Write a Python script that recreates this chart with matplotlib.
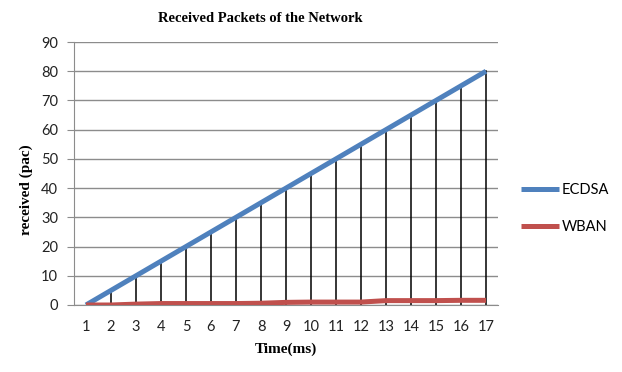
import matplotlib
matplotlib.use("Agg")
import matplotlib.pyplot as plt

# données des deux séries
temps = list(range(1, 18))
ecdsa = [0, 5, 10, 15, 20, 25, 30, 35, 40, 45, 50, 55, 60, 65, 70, 75, 80]
wban = [0, 0, 0.3, 0.5, 0.5, 0.5, 0.5, 0.6, 0.9, 1, 1, 1, 1.5, 1.5, 1.5, 1.6, 1.6]
series = ["ECDSA", "WBAN"]
couleurs = ["#4F81BD", "#C0504D"]

fig = plt.figure(figsize=(6.22, 3.72), dpi=100)
ax = fig.add_axes([73.5 / 622, 1 - 305 / 372, 425 / 622, 263 / 372])

# lignes verticales (drop lines) du point le plus haut jusqu'à l'axe
for t, a, b in zip(temps, ecdsa, wban):
    ax.plot([t, t], [0, max(a, b)], color="black", lw=1.1, zorder=2)

ax.plot(temps, ecdsa, color=couleurs[0], lw=3.6, label=series[0], zorder=3, solid_capstyle="butt")
ax.plot(temps, wban, color=couleurs[1], lw=3.6, label=series[1], zorder=3, solid_capstyle="butt")

ax.set_xlim(0.5, 17.5)
ax.set_ylim(0, 90)
ax.set_yticks(range(0, 91, 10))
ax.set_xticks(temps)
ax.grid(axis="y", color="#8c8c8c", lw=1.0)
ax.set_axisbelow(True)

for s in ["top", "right"]:
    ax.spines[s].set_visible(False)
ax.spines["left"].set_color("#8c8c8c")
ax.spines["bottom"].set_color("#8c8c8c")
ax.tick_params(axis="y", length=5, color="#8c8c8c", labelsize=10.5, pad=6)
ax.tick_params(axis="x", length=0, labelsize=10.5, pad=11)
for lab in ax.get_xticklabels() + ax.get_yticklabels():
    lab.set_family("Lato")
    lab.set_color("#222222")

fig.text(260 / 622, 1 - 18 / 372, "Received Packets of the Network", family="Liberation Serif",
         fontweight="bold", fontsize=10.5, ha="center", va="center")
ax.set_xlabel("Time(ms)", family="Liberation Serif", fontweight="bold",
              fontsize=11, labelpad=6)
ax.set_ylabel("received (pac)", family="Liberation Serif", fontweight="bold",
              fontsize=11, labelpad=4)
ax.yaxis.set_label_coords(-0.095, 0.44)

leg = fig.legend(loc="upper left", bbox_to_anchor=(508 / 622, 1 - 170 / 372),
                 frameon=False, handlelength=2.6, labelspacing=1.6,
                 prop={"family": "Lato", "size": 10.5}, handletextpad=0.2)

fig.savefig("out.png", dpi=100)
